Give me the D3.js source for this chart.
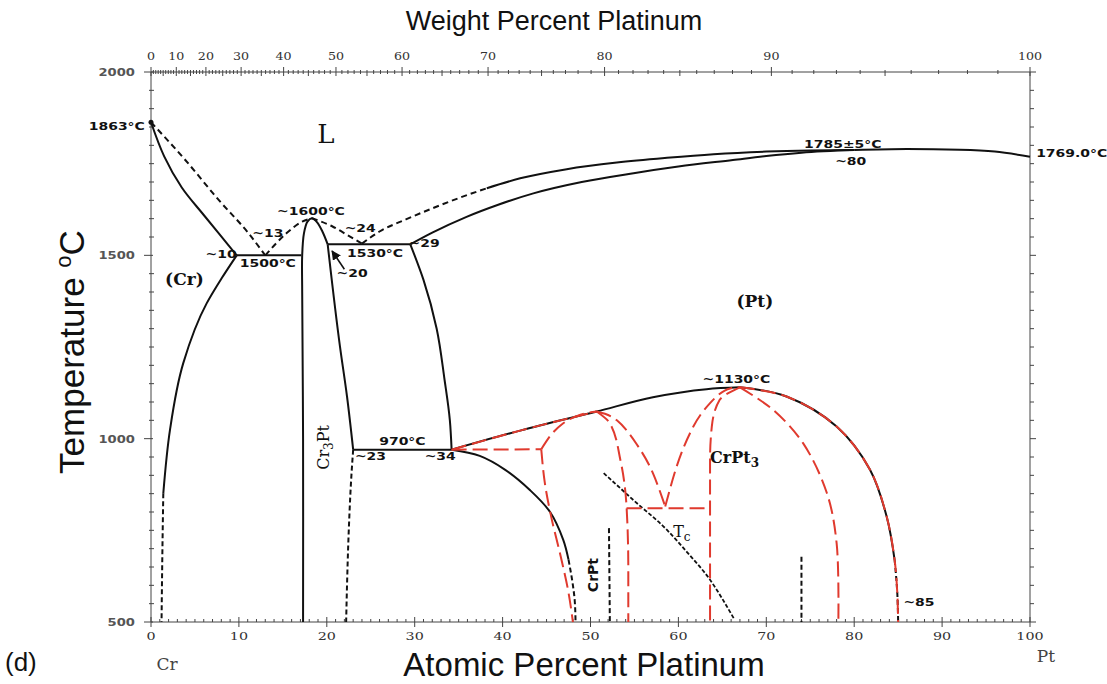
<!DOCTYPE html>
<html><head><meta charset="utf-8">
<script src="https://cdn.jsdelivr.net/npm/d3@7"></script>
<style>body{margin:0;background:#fff}svg{display:block}</style>
</head><body>
<svg id="c" width="1107" height="684"></svg>
<script>
// ---------- data (atomic % Pt, temperature °C) ----------
const atTicks = [0,10,20,30,40,50,60,70,80,90,100];
const wtTicks = [0,10,20,30,40,50,60,70,80,90,100];
const tempTicks = [500,1000,1500,2000];

const crLiquidus = [[0,1863],[3.9,1760],[7.7,1651],[11.1,1560],[13,1500]];
const crSolidus = [[0,1863],[1.5,1770],[3.5,1685],[6,1610],[9.75,1500]];
const crSolvus = [[9.75,1500],[8,1436],[6.33,1369],[3.67,1206],[2.16,1024],[1.4,851]];
const crSolvusDash = [[1.4,851],[1.3,700],[1.2,500]];
const eutectic1500 = [[9.75,1500],[17.1,1500]];
const cr3PtLeft = [[17.3,500],[17.3,1000],[17.2,1400],[17.2,1500],[17.4,1560],[17.8,1592],[18.3,1601],[18.9,1590],[19.5,1565],[20.1,1530]];
const cr3PtRight = [[20.1,1530],[21.5,1251],[22.3,1115],[23,970]];
const cr3PtRightDash = [[23,970],[22.8,900],[22.5,750],[22.3,600],[22.2,500]];
const liqLeftOfPeak = [[13,1500],[15.4,1560],[17.2,1592],[18.3,1601]];
const liqRightOfPeak = [[18.3,1601],[20.7,1578],[22.5,1553],[24,1532]];
const eutectic1530 = [[20.1,1530],[29.5,1530]];
const ptLiquidusDash = [[24,1532],[26,1565],[29,1598],[32,1628],[35,1656],[38.2,1683]];
const ptLiquidus = [[38.2,1683],[42,1710],[47.3,1735],[53,1753],[58.7,1766],[64,1776],[70,1783],[75,1786],[80,1787]];
const ptSolidus = [[29.5,1530],[32,1562],[35.9,1605],[39.5,1638],[43.5,1669],[49,1700],[54.9,1724],[60,1742],[66.2,1760],[70,1771],[74,1780],[80,1787]];
const ptMelt = [[80,1787],[86,1790],[92,1788],[96,1783],[100,1769]];
const ptSolvus = [[29.5,1530],[31,1433],[32.5,1300],[33.4,1160],[34,1050],[34.2,970]];
const peritectoid970 = [[23,970],[34.2,970]];
const orderLow = [[34.2,970],[37.4,953],[40.3,915],[43.1,860],[45.4,800],[46.9,724],[47.5,670]];
const orderLowDash = [[47.5,670],[48,600],[48.2,560],[48.3,500]];
const orderTop = [[34.2,970],[42,1022],[50.7,1074],[57.1,1113],[63.2,1135],[67,1140]];
const orderDome = [[67,1140],[72.3,1115],[78,1033],[81.8,915],[83.7,787],[84.6,669]];
const orderDomeDash = [[84.6,669],[84.9,580],[85,500]];
const crPtLine = [[52.1,756],[52.2,500]];
const line74 = [[74,678],[74,500]];
const curieLine = [[51.5,906],[55,830],[58.7,751],[61,690],[63.6,615],[66.3,510]];

// red (revised) boundaries
const redTop = [[34.2,970],[42,1022],[50.7,1074]];
const redFlat970 = [[34.2,970],[44.4,971]];
const redUp = [[44.4,971],[45.5,1010],[46.9,1042],[48.5,1062],[50.7,1074]];
const redDown = [[44.4,971],[44.8,880],[45.5,790],[46.6,680],[47.5,580],[48,500]];
const redCrPt = [[50.7,1074],[52.2,1042],[53.4,942],[54.1,815],[54.3,650],[54.3,500]];
const redV = [[50.7,1074],[53,1050],[55.2,987],[57.1,906],[58.5,815]];
const redV2 = [[58.5,815],[59.8,924],[61.7,1033],[63.6,1097],[65.9,1137],[67,1140]];
const redFlat810 = [[54.1,810],[63.6,810]];
const redCrPt3Left = [[67,1140],[64.7,1106],[63.8,1033],[63.6,942],[63.6,700],[63.6,500]];
const redCrPt3Right = [[67,1140],[70.8,1078],[74.2,987],[76.9,851],[78,715],[78.2,500]];
const redDome = [[67,1140],[72.3,1115],[78,1033],[81.8,915],[83.7,787],[84.6,669],[84.9,580],[85,500]];

// ---------- layout ----------
const svg = d3.select("#c");
const x = d3.scaleLinear().domain([0,100]).range([151,1030]);
const y = d3.scaleLinear().domain([500,2000]).range([622,72]);
const wtToAt = w => { const a = w/195.08, b = (100-w)/51.996; return (a+b)===0?0:100*a/(a+b); };

const CX = d3.curveMonotoneX, CY = d3.curveMonotoneY, CR = d3.curveCatmullRom.alpha(0.5);
const RED = "#e03a2e", BLK = "#111";
function draw(pts, color, dash, w, curve){
  const ln = d3.line().x(d=>x(d[0])).y(d=>y(d[1])).curve(curve||CX);
  svg.append("path").attr("d", ln(pts)).attr("fill","none")
    .attr("stroke", color).attr("stroke-width", w||2)
    .attr("stroke-dasharray", dash||null).attr("stroke-linejoin","round");
}

// ---------- axes ----------
const axG = svg.append("g").attr("stroke","#444").attr("stroke-width",1);
axG.append("line").attr("x1",x(0)).attr("x2",x(0)).attr("y1",y(2000)).attr("y2",y(500));
axG.append("line").attr("x1",x(100)).attr("x2",x(100)).attr("y1",y(2000)).attr("y2",y(500));
axG.append("line").attr("x1",x(0)).attr("x2",x(100)).attr("y1",y(500)).attr("y2",y(500));
axG.append("line").attr("x1",x(0)).attr("x2",x(100)).attr("y1",y(2000)).attr("y2",y(2000));
d3.range(0,101,1).forEach(v=>{
  const maj = v%10===0;
  axG.append("line").attr("x1",x(v)).attr("x2",x(v)).attr("y1",y(500)-(maj?5:3)).attr("y2",y(500)+(maj?5:0));
});
d3.range(0,101,1).forEach(v=>{
  const maj = v%10===0, mid = v%5===0;
  const xx = x(wtToAt(v));
  axG.append("line").attr("x1",xx).attr("x2",xx).attr("y1",y(2000)-(maj?5:2)).attr("y2",y(2000)+(mid?4:2));
});
d3.range(500,2001,50).forEach(v=>{
  const maj = v%500===0;
  axG.append("line").attr("x1",x(0)-(maj?7:2)).attr("x2",x(0)+(maj?2:3)).attr("y1",y(v)).attr("y2",y(v));
  axG.append("line").attr("x1",x(100)).attr("x2",x(100)+(maj?6:4)).attr("y1",y(v)).attr("y2",y(v));
});

const serif = "'DejaVu Serif', 'Liberation Serif', serif";
const sans = "'Liberation Sans', Arial, sans-serif";
const lbl = "'DejaVu Sans', sans-serif";

function wide(str, px, py, anchor, opt){
  opt = opt||{};
  const g = svg.append("g").attr("transform",`translate(${px},${py}) scale(${opt.sx||1.27},1)`);
  return g.append("text").attr("text-anchor",anchor||"middle")
    .attr("font-family",opt.fam||lbl).attr("font-weight",opt.weight||"bold")
    .attr("font-size",opt.size||11).attr("fill",opt.fill||"#111").text(str);
}

atTicks.forEach(d=>wide(d, x(d), y(500)+18, "middle", {fam:serif, weight:"normal", size:11, sx:1.3, fill:"#333"}));
wtTicks.forEach(d=>wide(d, x(wtToAt(d)), y(2000)-12, "middle", {fam:serif, weight:"normal", size:11.5, sx:1.1, fill:"#333"}));
tempTicks.forEach(d=>wide(d, x(0)-16, y(d)+4, "end", {size:10.5, sx:1.25, fill:"#555"}));

// ---------- curves ----------
draw(crLiquidus, BLK, "6,4");
draw(crSolidus, BLK, null, 2, CR);
draw(crSolvus, BLK, null, 2, CY);
draw(crSolvusDash, BLK, "5,3", 2, CY);
draw(eutectic1500, BLK);
draw(cr3PtLeft, BLK, null, 2, CR);
draw(cr3PtRight, BLK, null, 2, CY);
draw(cr3PtRightDash, BLK, "5,3", 2, CY);
draw(liqLeftOfPeak, BLK, "6,4");
draw(liqRightOfPeak, BLK, "6,4");
draw(eutectic1530, BLK);
draw(ptLiquidusDash, BLK, "6,4");
draw(ptLiquidus, BLK);
draw(ptSolidus, BLK);
draw(ptMelt, BLK);
draw(ptSolvus, BLK, null, 2, CY);
draw(peritectoid970, BLK);
draw(orderLow, BLK, null, 2, CR);
draw(orderLowDash, BLK, "5,3", 2, CY);
draw(orderTop, BLK);
draw(orderDome, BLK, null, 2, CR);
draw(orderDomeDash, BLK, "5,3", 2, CY);
draw(crPtLine, BLK, "5,3", 2, CY);
draw(line74, BLK, "5,3", 2, CY);
draw(curieLine, BLK, "4,2", 1.8);

const rd = "15,6";
draw(redTop, RED, rd);
draw(redFlat970, RED, rd);
draw(redUp, RED, rd);
draw(redDown, RED, rd, 2, CY);
draw(redCrPt, RED, rd, 2, CY);
draw(redV, RED, rd);
draw(redV2, RED, rd);
draw(redFlat810, RED, rd);
draw(redCrPt3Left, RED, rd, 2, CY);
draw(redCrPt3Right, RED, rd, 2, CR);
draw(redDome, RED, rd, 2, CR);

svg.append("circle").attr("cx",x(0)).attr("cy",y(1863)).attr("r",2.5).attr("fill",BLK);

svg.append("defs").append("marker").attr("id","ah").attr("viewBox","0 0 10 10").attr("refX",9).attr("refY",5)
  .attr("markerWidth",6).attr("markerHeight",6).attr("orient","auto")
  .append("path").attr("d","M0,0L10,5L0,10z").attr("fill",BLK);
svg.append("line").attr("x1",x(22.0)).attr("y1",y(1462)).attr("x2",x(20.6)).attr("y2",y(1512))
  .attr("stroke",BLK).attr("stroke-width",1.6).attr("marker-end","url(#ah)");

// ---------- annotations ----------
const notes = [
  ["~1600°C",18.2,1610,"middle"],["~13",13.3,1551,"middle"],["~10",9.75,1492,"end"],
  ["1500°C",10.1,1469,"start"],["~24",23.8,1564,"middle"],["1530°C",22.3,1496,"start"],
  ["~29",29.3,1524,"start"],["~20",21.1,1442,"start"],["970°C",28.6,983,"middle"],
  ["~23",23.2,942,"start"],["~34",32.9,942,"middle"],["~1130°C",66.6,1151,"middle"],
  ["1785±5°C",78.7,1792,"middle"],["~80",79.6,1746,"middle"],["1769.0°C",100.7,1767,"start"],
  ["1863°C",-0.7,1842,"end"],["~85",85.6,544,"start"]
];
notes.forEach(d=>wide(d[0], x(d[1]), y(d[2]), d[3]));

function t(str, px, T, size, fam, anchor, weight){
  return svg.append("text").attr("x",x(px)).attr("y",y(T)).attr("font-size",size)
    .attr("font-family",fam).attr("text-anchor",anchor||"middle").attr("font-weight",weight||"normal")
    .attr("fill","#111").text(str);
}
t("L",19.9,1806,26,serif);
t("(Cr)",3.8,1419,17,serif,"middle","bold");
t("(Pt)",68.7,1360,17,serif,"middle","bold");
const cp3 = svg.append("text").attr("x",x(63.6)).attr("y",y(933)).attr("font-family",serif)
  .attr("font-size",16).attr("font-weight","bold").attr("fill","#111");
cp3.append("tspan").text("CrPt");
cp3.append("tspan").attr("dy",4).attr("font-size",12).text("3");
const tc = svg.append("text").attr("x",x(59.4)).attr("y",y(733)).attr("font-family",serif)
  .attr("font-size",16).attr("fill","#111");
tc.append("tspan").text("T");
tc.append("tspan").attr("dy",4).attr("font-size",12).text("c");
const c3 = svg.append("text").attr("transform",`translate(${x(19.6)+6},${y(976)}) rotate(-90)`)
  .attr("text-anchor","middle").attr("font-family",serif).attr("font-size",16).attr("fill","#111");
c3.append("tspan").text("Cr");
c3.append("tspan").attr("dy",4).attr("font-size",12).text("3");
c3.append("tspan").attr("dy",-4).text("Pt");
svg.append("text").attr("transform",`translate(${x(50.2)+6},${y(628)}) rotate(-90)`)
  .attr("text-anchor","middle").attr("font-family",lbl).attr("font-weight","bold").attr("font-size",14)
  .attr("fill","#111").text("CrPt");

svg.append("text").attr("x",167).attr("y",670).attr("text-anchor","middle").attr("font-family",serif)
  .attr("font-size",17).attr("fill","#444").text("Cr");
svg.append("text").attr("x",1046).attr("y",662).attr("text-anchor","middle").attr("font-family",serif)
  .attr("font-size",17).attr("fill","#444").text("Pt");

svg.append("text").attr("x",554).attr("y",30).attr("text-anchor","middle").attr("font-family",sans)
  .attr("font-size",27).attr("fill","#111").text("Weight Percent Platinum");
svg.append("text").attr("x",584).attr("y",676).attr("text-anchor","middle").attr("font-family",sans)
  .attr("font-size",33).attr("fill","#111").text("Atomic Percent Platinum");
const yt = svg.append("text").attr("transform","translate(84,352) rotate(-90)").attr("text-anchor","middle")
  .attr("font-family",sans).attr("font-size",35).attr("fill","#111");
yt.append("tspan").text("Temperature ");
yt.append("tspan").attr("dy",-13).attr("font-size",22).text("o");
yt.append("tspan").attr("dy",13).text("C");
svg.append("text").attr("x",5).attr("y",671).attr("font-family",sans).attr("font-size",26)
  .attr("fill","#111").text("(d)");
</script>
</body></html>
